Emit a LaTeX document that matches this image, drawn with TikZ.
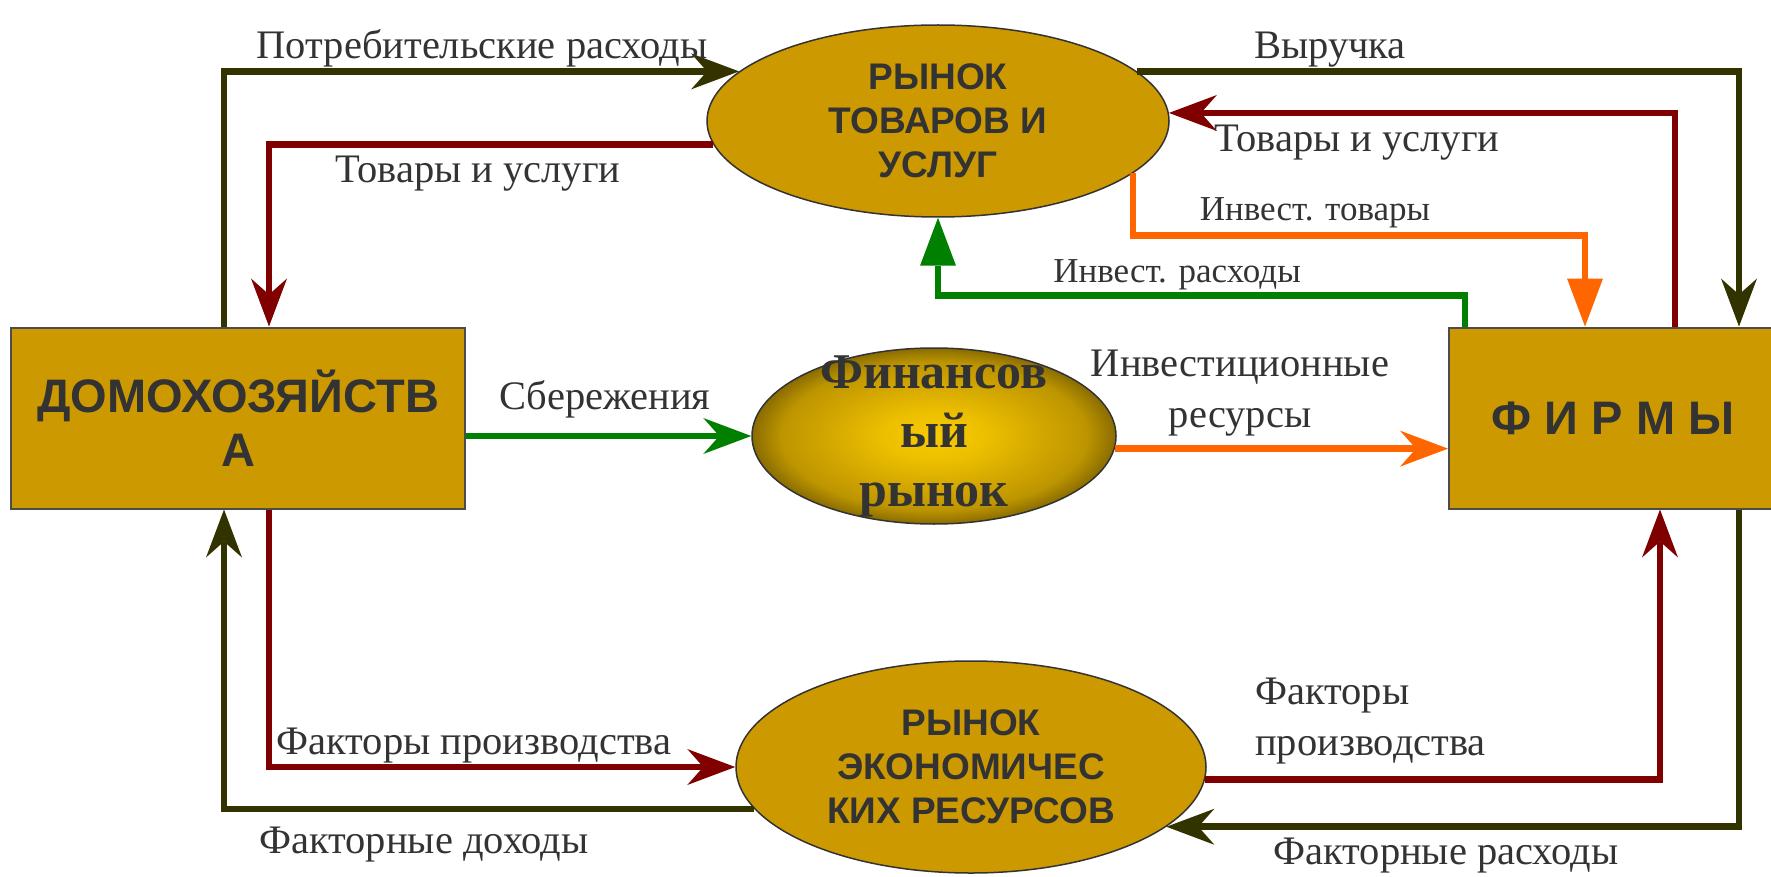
\documentclass[tikz,border=0pt]{standalone}
\usepackage{fontspec}
\setmainfont{Liberation Serif}
\newfontfamily\headfont{Liberation Sans}
\usetikzlibrary{positioning, arrows.meta, shapes.geometric}

\definecolor{gold}{HTML}{CC9900}
\definecolor{finlight}{HTML}{F8CA00}
\definecolor{finmid}{HTML}{D2A600}
\definecolor{findark}{HTML}{8A6C00}
\definecolor{textgray}{HTML}{333333}
\definecolor{spendcol}{HTML}{333300}
\definecolor{realcol}{HTML}{800000}
\definecolor{investcol}{HTML}{008000}
\definecolor{capitalcol}{HTML}{FF6600}

\pgfdeclareradialshading{finshade}{\pgfpoint{0bp}{0bp}}{color(0bp)=(finlight); color(7bp)=(finlight!70!finmid); color(15bp)=(finmid); color(21bp)=(finmid!70!findark); color(25bp)=(findark); color(50bp)=(findark)}

\begin{document}
\begin{tikzpicture}[x=1pt,y=-1pt,
  market/.style={ellipse, draw=textgray, line width=1.5pt, fill=gold, text=textgray, align=center, inner sep=0pt, font=\headfont\bfseries\fontsize{37}{44}\selectfont},
  agent/.style={rectangle, draw=black!70, line width=2pt, fill=gold, text=textgray, align=center, font=\headfont\bfseries\fontsize{47}{54}\selectfont},
  flow/.style={line width=6.5pt, -{Stealth[length=48pt, width=36pt, inset=16pt, line width=0pt]}},
  plainflow/.style={line width=6.5pt, -{Triangle[length=48pt, width=36pt, line width=0pt]}},
  lbl/.style={anchor=base, inner sep=0pt, text=textgray, font=\fontsize{40.5}{51}\selectfont},
  small/.style={font=\fontsize{35}{42}\selectfont}]

  \useasboundingbox (0,0) rectangle (1771,877);

  % Agents
  \node[agent, minimum width=454pt, minimum height=181pt] (hh) at (238,418) {ДОМОХОЗЯЙСТВ\\А};
  \node[agent, minimum width=328pt, minimum height=181pt] (firms) at (1613,418) {Ф И Р М Ы};

  % Markets
  \node[market, minimum width=462pt, minimum height=192pt] (goods) at (938,121) {РЫНОК\\ТОВАРОВ И\\УСЛУГ};
  \node[market, minimum width=364pt, minimum height=176pt, shading=finshade] (fin) at (934,436) {};
  \node[align=center, text=textgray, font=\bfseries\fontsize{50}{59}\selectfont] (fintitle) at (fin.center) {Финансов\\ый\\рынок};
  \node[market, minimum width=470pt, minimum height=212pt] (res) at (971,767) {РЫНОК\\ЭКОНОМИЧЕС\\КИХ РЕСУРСОВ};

  % Upper loop
  \draw[flow, spendcol] ([xshift=-14pt]hh.north) |- (goods.166);
  \draw[flow, realcol] (goods.186) -| ([xshift=31pt]hh.north);
  \draw[flow, spendcol] (goods.14) -| ([xshift=126pt]firms.north);
  \draw[flow, realcol] ([xshift=62pt]firms.north) |- (goods.2);
  \draw[plainflow, capitalcol] (goods.345) -- ++(0,62) -| ([xshift=-28pt]firms.north);
  \draw[plainflow, investcol] ([xshift=-148pt]firms.north) -- ++(0,-31) -| (goods.south);

  % Financial market
  \draw[flow, investcol] (hh.east |- fin.west) -- (fin.west);
  \draw[flow, capitalcol] (fin.356) -- (fin.356 -| firms.west);

  % Lower loop
  \draw[flow, realcol] ([xshift=31pt]hh.south) |- (res.west);
  \draw[flow, spendcol] (res.191) -| ([xshift=-14pt]hh.south);
  \draw[flow, realcol] (res.357) -| ([xshift=47pt]firms.south);
  \draw[flow, spendcol] ([xshift=126pt]firms.south) |- (res.343);

  % Labels
  \node[lbl] (lspend) at (482,59) {Потребительские расходы};
  \node[lbl] (lgoodsl) at (478,183) {Товары и услуги};
  \node[lbl] (lrevenue) at (1330,59) {Выручка};
  \node[lbl] (lgoodsr) at (1357,152) {Товары и услуги};
  \node[lbl, small] (linvgoods) at (1315,221) {Инвест. товары};
  \node[lbl, small] (linvspend) at (1177,282) {Инвест. расходы};
  \node[lbl] (lsave) at (605,409) {Сбережения};
  \node[lbl, align=center] (linvres) at (1240,427) {Инвестиционные\\ресурсы};
  \node[lbl] (lfactl) at (474,754) {Факторы производства};
  \node[lbl] (lincome) at (424,853) {Факторные доходы};
  \node[lbl, anchor=base west, align=left] (lfactr) at (1255,755) {Факторы\\производства};
  \node[lbl] (lcost) at (1446,864) {Факторные расходы};
\end{tikzpicture}
\end{document}
